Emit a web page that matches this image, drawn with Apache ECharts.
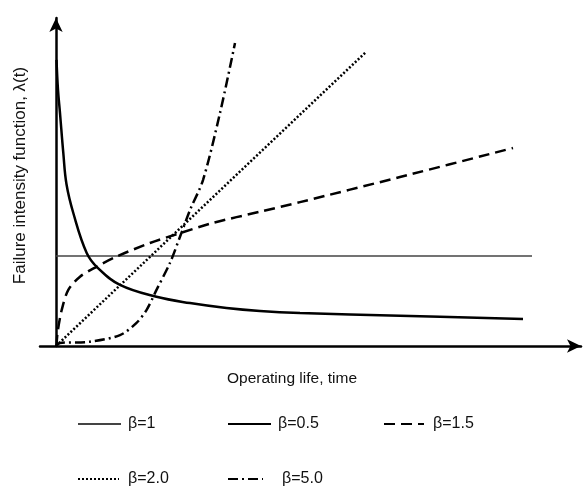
<!DOCTYPE html>
<html>
<head>
<meta charset="utf-8">
<script src="https://cdn.jsdelivr.net/npm/echarts@6/dist/echarts.min.js"></script>
<style>html,body{margin:0;padding:0;background:#fff}#c{width:587px;height:492px}</style>
</head>
<body>
<div id="c"></div>
<script>
// Legend / series names
const seriesNames = ['β=1', 'β=0.5', 'β=1.5', 'β=2.0', 'β=5.0'];
// Axis names
const xAxisName = 'Operating life, time';
const yAxisName = 'Failure intensity function, λ(t)';
// Series values: [time, intensity]
const beta1 = [[0, 27.3], [95.2, 27.3]];
const beta05 = [[0.1, 86.7], [0.4, 77.6], [0.8, 70.6], [1.46, 58.5], [2.1, 49.0], [3.46, 40.3], [6.14, 28.2], [8.4, 23.6], [12.8, 18.5], [20.1, 14.9], [26.8, 13.0], [34.1, 11.5], [40.8, 10.6], [48.8, 10.0], [68.8, 9.2], [93.4, 8.2]];
const beta15 = [[0.1, 0], [0.3, 3.9], [1.14, 10.9], [2.46, 17.0], [4.8, 21.0], [8.1, 24.0], [12.1, 27.1], [18.8, 31.2], [24.8, 34.2], [31.4, 37.3], [40.8, 40.7], [48.8, 43.6], [68.8, 51.2], [91.4, 60.0]];
const beta20 = [[0, 0], [62, 89.1]];
const beta50 = [[0, 0], [0.8, 0.9], [6.8, 1.3], [12.8, 3.3], [16.1, 7.0], [18.1, 10.9], [20.1, 17.0], [22.8, 25.2], [24.8, 33.1], [26.8, 41.2], [29.4, 50.3], [32.8, 70.6], [35.8, 91.8]];

const font = "'Liberation Sans', Arial, sans-serif";
const chart = echarts.init(document.getElementById('c'));

function mkLegend(name, left, top, w, gap) {
  return {
    data: [name], left: left, top: top, padding: 0,
    itemWidth: w, itemHeight: 14,
    itemStyle: { color: 'transparent', borderWidth: 0, opacity: 0 },
    textStyle: { fontFamily: font, fontSize: 16, color: '#111', padding: [0, 0, 0, gap] },
    selectedMode: false
  };
}

chart.setOption({
  animation: false,
  backgroundColor: '#fff',
  grid: { left: 40, right: 6, top: 18, bottom: 146, outerBoundsMode: 'none', containLabel: false },
  xAxis: {
    type: 'value', min: -3.2, max: 105,
    axisLine: { onZero: true, lineStyle: { color: '#000', width: 2.5 }, symbol: ['none', 'arrow'], symbolSize: [10, 14] },
    axisTick: { show: false }, axisLabel: { show: false }, splitLine: { show: false },
    name: xAxisName, nameLocation: 'middle', nameGap: 25,
    nameTextStyle: { fontFamily: font, fontSize: 15.5, color: '#111', padding: [0, 37, 0, 0] }
  },
  yAxis: {
    type: 'value', min: 0, max: 99.4,
    axisLine: { onZero: true, lineStyle: { color: '#000', width: 2.5 }, symbol: ['none', 'arrow'], symbolSize: [10, 14] },
    axisTick: { show: false }, axisLabel: { show: false }, splitLine: { show: false },
    name: yAxisName, nameLocation: 'middle', nameGap: 11,
    nameTextStyle: { fontFamily: font, fontSize: 17, color: '#111', padding: [0, 0, 0, 13] }
  },
  legend: [
    mkLegend(seriesNames[0], 77, 416, 43, 2),
    mkLegend(seriesNames[1], 227, 416, 43, 2),
    mkLegend(seriesNames[2], 383, 416, 40, 4),
    mkLegend(seriesNames[3], 77, 471, 41, 4),
    mkLegend(seriesNames[4], 227, 471, 35, 14)
  ],
  series: [
    { name: seriesNames[0], type: 'line', data: beta1, symbol: 'none', lineStyle: { color: '#444', width: 1.5 }, itemStyle: { color: '#444' } },
    { name: seriesNames[1], type: 'line', data: beta05, symbol: 'none', smooth: 0.4, lineStyle: { color: '#000', width: 2.5 }, itemStyle: { color: '#000' } },
    { name: seriesNames[2], type: 'line', data: beta15, symbol: 'none', smooth: 0.3, lineStyle: { color: '#000', width: 2.5, type: [11, 6] }, itemStyle: { color: '#000' } },
    { name: seriesNames[3], type: 'line', data: beta20, symbol: 'none', lineStyle: { color: '#000', width: 2.5, type: [2, 2] }, itemStyle: { color: '#000' } },
    { name: seriesNames[4], type: 'line', data: beta50, symbol: 'none', smooth: 0.3, lineStyle: { color: '#000', width: 2.5, type: [10, 4, 2, 4] }, itemStyle: { color: '#000' } }
  ]
});
</script>
</body>
</html>
